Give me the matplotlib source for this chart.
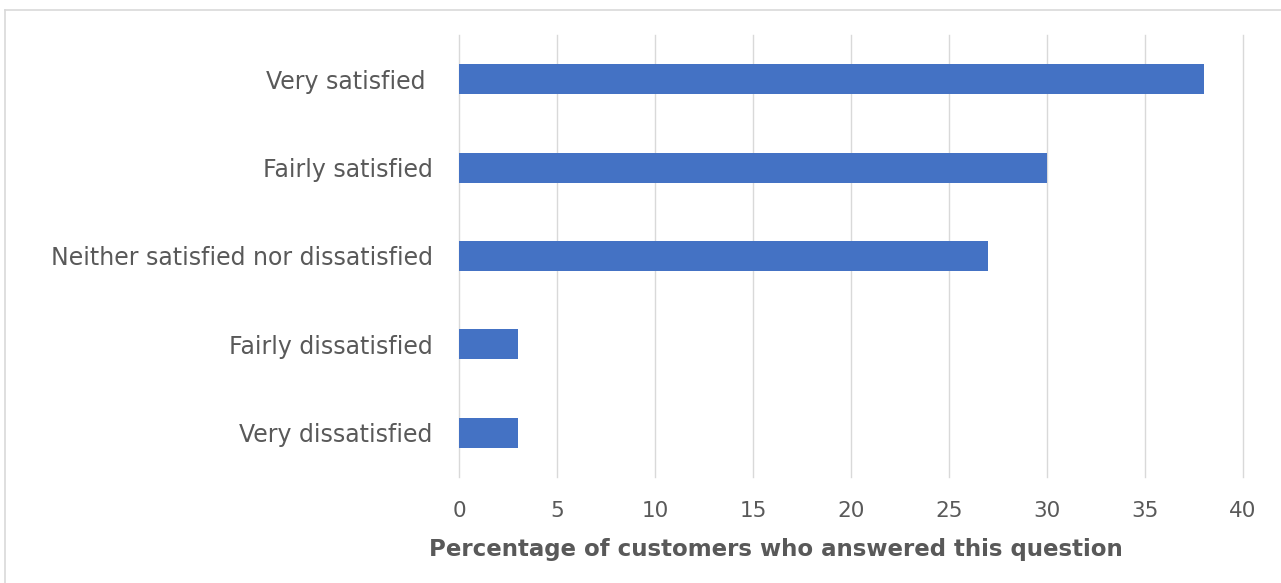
import matplotlib.pyplot as plt
from matplotlib.lines import Line2D

categories = [
    "Very satisfied ",
    "Fairly satisfied",
    "Neither satisfied nor dissatisfied",
    "Fairly dissatisfied",
    "Very dissatisfied",
]
values = [38, 30, 27, 3, 3]
x_ticks = [0, 5, 10, 15, 20, 25, 30, 35, 40]

plt.rcParams["font.family"] = ["DejaVu Sans"]
text_color = "#595959"
bar_color = "#4472C4"
grid_color = "#D9D9D9"

fig = plt.figure(figsize=(12.81, 5.83), dpi=100)
ax = fig.add_axes([0.3583, 0.1818, 0.6121, 0.7582])

ypos = list(range(len(categories)))
ax.barh(ypos, values, height=0.34, color=bar_color, zorder=3)
ax.set_ylim(len(categories) - 0.5, -0.5)
ax.set_yticks(ypos)
ax.set_yticklabels(categories, fontsize=17, color=text_color)

ax.set_xlim(0, 40)
ax.set_xticks(x_ticks)
ax.set_xticklabels([str(t) for t in x_ticks], fontsize=15.5, color=text_color)
ax.tick_params(axis="both", length=0)
ax.tick_params(axis="y", pad=19)
ax.tick_params(axis="x", pad=17.5)

ax.grid(axis="x", color=grid_color, linewidth=1, zorder=0)
for gl in ax.get_xgridlines():
    gl.set_clip_on(False)
for side in ["top", "right", "bottom", "left"]:
    ax.spines[side].set_visible(False)

ax.set_xlabel("Percentage of customers who answered this question",
              fontsize=16.5, fontweight="bold", color=text_color)
ax.xaxis.label.set_va("center")
ax.xaxis.set_label_coords(0.404, -0.163)

# light frame (top and left edges visible in the reference)
fig.add_artist(Line2D([5 / 1281, 1], [1 - 10 / 583, 1 - 10 / 583],
                      transform=fig.transFigure, color=grid_color, linewidth=1.2))
fig.add_artist(Line2D([5 / 1281, 5 / 1281], [0, 1 - 10 / 583],
                      transform=fig.transFigure, color=grid_color, linewidth=1.2))

fig.savefig("out.png", dpi=100)
